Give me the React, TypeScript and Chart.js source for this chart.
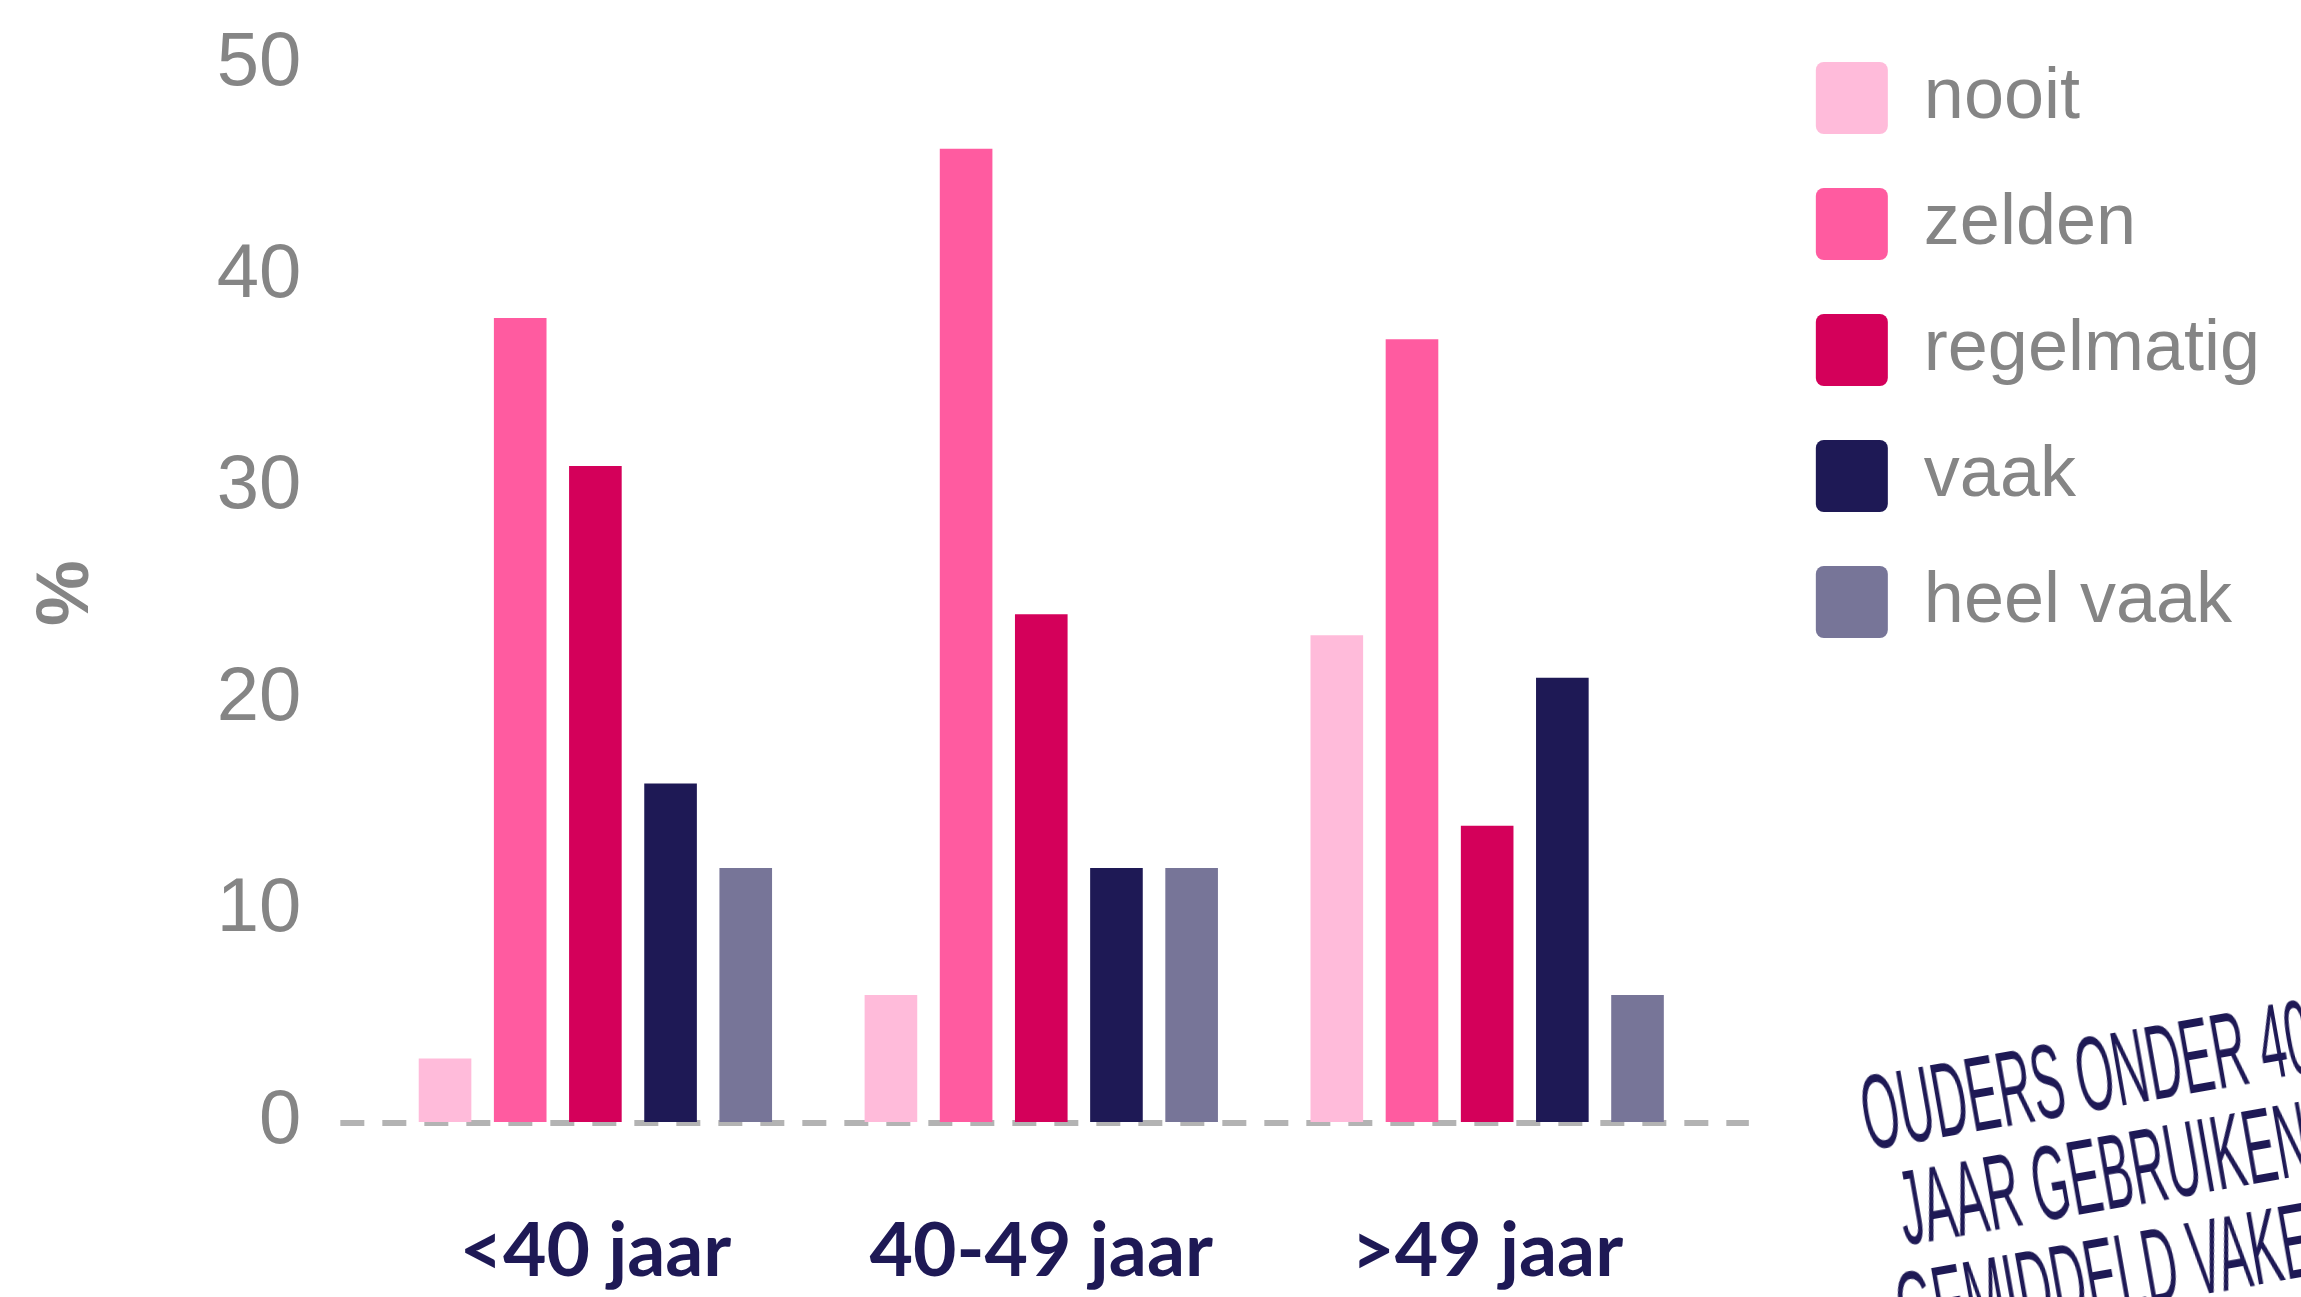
import React, { useEffect, useRef } from "react";
import { Chart, registerables } from "chart.js";

Chart.register(...registerables);

const categories = ["<40 jaar", "40-49 jaar", ">49 jaar"];
const seriesNames = ["nooit", "zelden", "regelmatig", "vaak", "heel vaak"];
const nooit = [3, 6, 23];
const zelden = [38, 46, 37];
const regelmatig = [31, 24, 14];
const vaak = [16, 12, 21];
const heelVaak = [12, 12, 6];
const seriesValues = [nooit, zelden, regelmatig, vaak, heelVaak];
const seriesColors = ["#FFBBDA", "#FF5BA0", "#D4005A", "#1E1955", "#777598"];
const yTicks = [0, 10, 20, 30, 40, 50];
const yTitle = "%";
const noteLines = ["Ouders onder 40", "jaar gebruiken", "gemiddeld vaker"];

const GRAY = "#858585";
const NAVY = "#1E1955";

const zeroLine = {
  id: "zeroLine",
  beforeDatasetsDraw(chart: any) {
    const { ctx, chartArea, scales } = chart;
    const py = scales.y.getPixelForValue(0) + 1;
    ctx.save();
    ctx.setLineDash([24, 18]);
    ctx.lineWidth = 6;
    ctx.strokeStyle = "#b3b3b3";
    ctx.beginPath();
    ctx.moveTo(chartArea.left, py);
    ctx.lineTo(chartArea.right - 13, py);
    ctx.stroke();
    ctx.restore();
  },
};

export default function App() {
  const canvasRef = useRef<HTMLCanvasElement | null>(null);

  useEffect(() => {
    if (!canvasRef.current) return;
    const chart = new Chart(canvasRef.current, {
      type: "bar",
      data: {
        datasets: seriesNames.map((name, i) => ({
          label: name,
          data: seriesValues[i].map((v, j) => ({ x: j, y: v })),
          backgroundColor: seriesColors[i],
          borderWidth: 0,
          categoryPercentage: 0.843,
          barPercentage: 0.7,
        })),
      },
      options: {
        animation: false,
        responsive: true,
        maintainAspectRatio: false,
        layout: { padding: { top: 8, right: 31, bottom: 0, left: 0 } },
        plugins: {
          tooltip: { enabled: false },
          legend: {
            position: "right",
            align: "start",
            labels: {
              boxWidth: 72,
              boxHeight: 72,
              padding: 54,
              color: GRAY,
              useBorderRadius: true,
              borderRadius: 8,
              font: { family: "'Liberation Sans', Arial, sans-serif", size: 72 },
            },
          },
        },
        scales: {
          x: {
            type: "linear",
            offset: false,
            min: -0.572,
            max: 2.616,
            afterBuildTicks: (s: any) => {
              s.ticks = categories.map((_, i) => ({ value: i }));
            },
            grid: { display: false, drawTicks: false },
            border: { display: false },
            ticks: {
              color: NAVY,
              padding: 92,
              callback: (v: any) => categories[v as number] ?? "",
              font: { family: "Lato, sans-serif", size: 75, weight: "bold", lineHeight: 1.0 },
            },
          },
          y: {
            min: 0,
            max: 50,
            afterBuildTicks: (s: any) => {
              s.ticks = yTicks.map((v) => ({ value: v }));
            },
            grid: { display: false, drawTicks: false },
            border: { display: false },
            ticks: {
              color: GRAY,
              padding: 39,
              font: { family: "'Liberation Sans', Arial, sans-serif", size: 76, lineHeight: 0.66 },
            },
            title: {
              display: true,
              text: yTitle,
              color: GRAY,
              padding: { top: 23, bottom: 66 },
              font: { family: "'Liberation Sans', Arial, sans-serif", size: 74, weight: "bold", lineHeight: 1.2 },
            },
          },
        },
      },
      plugins: [zeroLine],
    } as any);
    return () => chart.destroy();
  }, []);

  return (
    <div
      style={{
        position: "absolute",
        left: 0,
        top: 0,
        width: 2301,
        height: 1297,
        overflow: "hidden",
        background: "#ffffff",
      }}
    >
      <div style={{ position: "absolute", left: 0, top: 0, width: 2301, height: 1381 }}>
        <canvas ref={canvasRef} style={{ display: "block" }} />
      </div>
      <div
        style={{
          position: "absolute",
          left: 1834,
          top: 1068,
          width: 1100,
          transform: "rotate(-10deg) scaleX(0.45)",
          transformOrigin: "0 0",
          textAlign: "center",
          color: NAVY,
          fontFamily: "'Liberation Sans Narrow', 'Liberation Sans', sans-serif",
          textTransform: "uppercase",
          fontSize: 106,
          lineHeight: "100px",
          whiteSpace: "nowrap",
        }}
      >
        {noteLines.map((l, i) => (
          <div key={i}>{l}</div>
        ))}
      </div>
    </div>
  );
}
